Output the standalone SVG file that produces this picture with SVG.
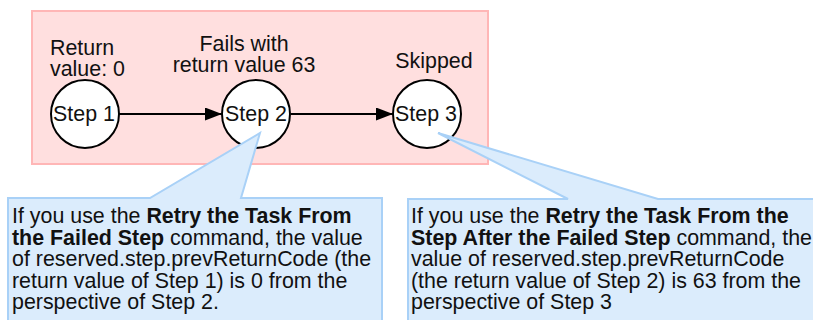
<svg xmlns="http://www.w3.org/2000/svg" width="813" height="320" viewBox="0 0 813 320">
  <style>
    text { font-family: "Liberation Sans", Arial, sans-serif; font-size: 21.4px; fill: #111; }
    .mid { text-anchor: middle; }
    .b { font-weight: bold; }
    .step { fill: #fff; stroke: #000; stroke-width: 2; }
    .flow { stroke: #000; stroke-width: 1.8; fill: none; marker-end: url(#head); }
    .note { fill: #dbecfc; stroke: #a9d1f7; stroke-width: 2; }
  </style>
  <defs>
    <marker id="head" viewBox="0 0 17 13" refX="17" refY="6.5" markerWidth="17" markerHeight="13" markerUnits="userSpaceOnUse" orient="auto">
      <path d="M0,0 L17,6.5 L0,13 Z" fill="#000"/>
    </marker>
  </defs>

  <!-- job area -->
  <rect id="job" x="32" y="11" width="456" height="153" fill="#ffdfdf" stroke="#ffb6b6" stroke-width="2"/>

  <g id="connectors">
    <line class="flow" x1="119" y1="114" x2="222" y2="114"/>
    <line class="flow" x1="291" y1="114" x2="393" y2="114"/>
  </g>

  <g id="step1">
    <text x="50" y="55">Return</text>
    <text x="50" y="76">value: 0</text>
    <circle class="step" cx="85" cy="114" r="34"/>
    <text class="mid" x="84" y="121">Step 1</text>
  </g>

  <g id="step2">
    <text class="mid" x="244" y="51">Fails with</text>
    <text class="mid" x="244" y="72">return value 63</text>
    <circle class="step" cx="256" cy="114" r="34"/>
    <text class="mid" x="256" y="121">Step 2</text>
  </g>

  <g id="step3">
    <text class="mid" x="434" y="68">Skipped</text>
    <circle class="step" cx="427" cy="114" r="34"/>
    <text class="mid" x="426" y="121">Step 3</text>
  </g>

  <g id="note-retry-failed">
    <path class="note" d="M8,198 L150,198 L260,133 L241,198 L382,198 L382,322 L8,322 Z"/>
    <text x="12" y="223">If you use the <tspan class="b">Retry the Task From</tspan></text>
    <text x="12" y="244.5"><tspan class="b">the Failed Step</tspan> command, the value</text>
    <text x="12" y="266">of reserved.step.prevReturnCode (the</text>
    <text x="12" y="287.5">return value of Step 1) is 0 from the</text>
    <text x="12" y="309">perspective of Step 2.</text>
  </g>

  <g id="note-retry-after">
    <path class="note" d="M408,199 L568,199 L438,133 L658,199 L816,199 L816,322 L408,322 Z"/>
    <text x="411" y="223">If you use the <tspan class="b">Retry the Task From the</tspan></text>
    <text x="411" y="244.5"><tspan class="b">Step After the Failed Step</tspan> command, the</text>
    <text x="411" y="266">value of reserved.step.prevReturnCode</text>
    <text x="411" y="287.5">(the return value of Step 2) is 63 from the</text>
    <text x="411" y="309">perspective of Step 3</text>
  </g>
</svg>
